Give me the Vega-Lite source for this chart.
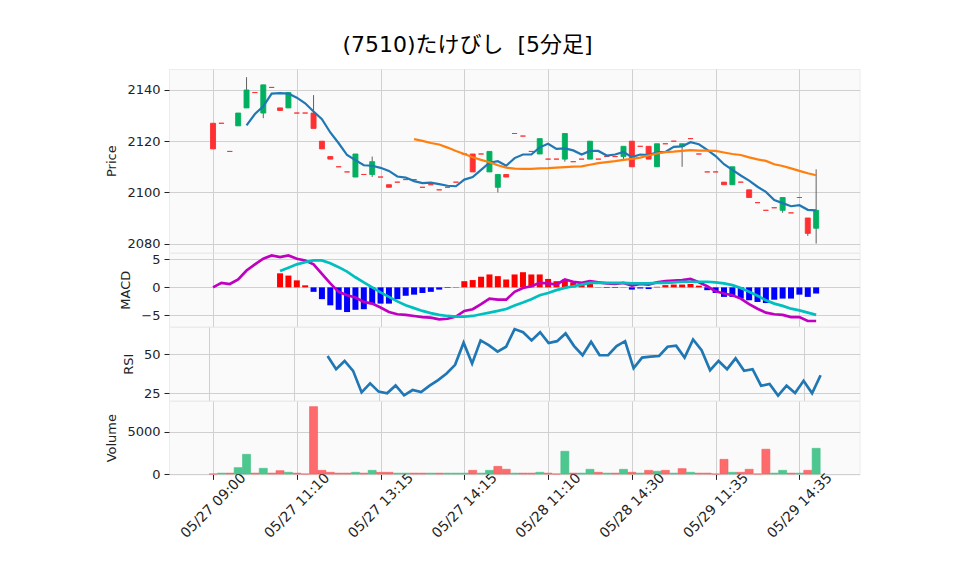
{
"$schema": "https://vega.github.io/schema/vega-lite/v6.json",
"background": "white",
"padding": {"left": 105, "top": 33, "right": 5, "bottom": 5},
"bounds": "flush",
"title": {"text": "(7510)たけびし\u00a0 [5分足]", "font": "DejaVu Sans, Noto Sans CJK JP", "fontSize": 22, "fontWeight": "normal", "color": "#000000", "anchor": "start", "dx": 237, "offset": 12},
"spacing": 0,
"datasets": {"d": [
{"i":0,"o":2127,"h":2127,"l":2117,"c":2117,"v":0,"vd":"d","md":0},
{"i":1,"o":2127,"h":2127,"l":2127,"c":2127,"v":100,"vd":"u","md":0.8},
{"i":2,"o":2116,"h":2116,"l":2116,"c":2116,"v":100,"vd":"d","md":0.6},
{"i":3,"o":2126,"h":2131,"l":2126,"c":2131,"v":750,"vd":"u","md":1.4},
{"i":4,"o":2133,"h":2145,"l":2133,"c":2140,"v":2320,"vd":"u","m5":2126.2,"md":3.0},
{"i":5,"o":2139,"h":2139,"l":2139,"c":2139,"v":100,"vd":"d","m5":2130.6,"md":4.1},
{"i":6,"o":2131,"h":2142,"l":2129,"c":2142,"v":670,"vd":"u","m5":2133.6,"md":5.1},
{"i":7,"o":2141,"h":2141,"l":2141,"c":2141,"v":100,"vd":"d","m5":2138.6,"md":5.7},
{"i":8,"o":2133,"h":2133,"l":2132,"c":2132,"v":390,"vd":"d","m5":2138.8,"md":5.4,"sg":2.9,"hs":2.5},
{"i":9,"o":2133,"h":2139,"l":2133,"c":2139,"v":200,"vd":"u","m5":2138.6,"md":5.7,"sg":3.5,"hs":2.1},
{"i":10,"o":2131,"h":2131,"l":2131,"c":2131,"v":100,"vd":"d","m5":2137.0,"md":5.1,"sg":4.1,"hs":1.25},
{"i":11,"o":2131,"h":2131,"l":2131,"c":2131,"v":0,"vd":"d","m5":2134.8,"md":4.8,"sg":4.5,"hs":0.36},
{"i":12,"o":2131,"h":2138,"l":2125,"c":2125,"v":7950,"vd":"d","m5":2131.6,"md":4.1,"sg":4.8,"hs":-0.8},
{"i":13,"o":2120,"h":2120,"l":2117,"c":2117,"v":430,"vd":"d","m5":2128.6,"md":2.4,"sg":4.8,"hs":-2.1},
{"i":14,"o":2114,"h":2114,"l":2113,"c":2113,"v":200,"vd":"d","m5":2123.4,"md":0.7,"sg":4.3,"hs":-3.2,"rsi":48.9},
{"i":15,"o":2110,"h":2110,"l":2110,"c":2110,"v":100,"vd":"d","m5":2119.2,"md":-0.8,"sg":3.6,"hs":-4.0,"rsi":40.4},
{"i":16,"o":2108,"h":2108,"l":2108,"c":2108,"v":100,"vd":"d","m5":2114.6,"md":-1.4,"sg":2.8,"hs":-4.4,"rsi":45.7},
{"i":17,"o":2106,"h":2115,"l":2106,"c":2115,"v":200,"vd":"u","m5":2112.6,"md":-1.8,"sg":1.8,"hs":-4.0,"rsi":39.3},
{"i":18,"o":2107,"h":2107,"l":2107,"c":2107,"v":100,"vd":"d","m5":2110.6,"md":-2.6,"sg":0.9,"hs":-3.9,"rsi":25.4},
{"i":19,"o":2107,"h":2114,"l":2106,"c":2112,"v":430,"vd":"u","m5":2110.4,"md":-2.9,"sg":0.0,"hs":-3.0,"rsi":31.2},
{"i":20,"o":2106,"h":2106,"l":2106,"c":2106,"v":200,"vd":"d","m5":2109.6,"md":-3.6,"sg":-0.9,"hs":-2.9,"rsi":25.9},
{"i":21,"o":2103,"h":2103,"l":2102,"c":2102,"v":200,"vd":"d","m5":2108.4,"md":-4.4,"sg":-1.7,"hs":-2.9,"rsi":24.8},
{"i":22,"o":2104,"h":2104,"l":2104,"c":2104,"v":100,"vd":"u","m5":2106.2,"md":-4.8,"sg":-2.5,"hs":-2.1,"rsi":29.9},
{"i":23,"o":2105,"h":2105,"l":2105,"c":2105,"v":100,"vd":"u","m5":2105.8,"md":-4.9,"sg":-3.2,"hs":-1.5,"rsi":23.5},
{"i":24,"o":2105,"h":2105,"l":2105,"c":2105,"v":100,"vd":"d","m5":2104.4,"m25":2120.8,"md":-5.1,"sg":-3.7,"hs":-1.3,"rsi":26.9},
{"i":25,"o":2102,"h":2102,"l":2102,"c":2102,"v":100,"vd":"d","m5":2103.6,"m25":2120.1,"md":-5.3,"sg":-4.2,"hs":-1.0,"rsi":25.6},
{"i":26,"o":2103,"h":2103,"l":2103,"c":2103,"v":100,"vd":"u","m5":2103.8,"m25":2119.3,"md":-5.4,"sg":-4.6,"hs":-0.8,"rsi":29.7},
{"i":27,"o":2101,"h":2101,"l":2101,"c":2101,"v":100,"vd":"d","m5":2103.2,"m25":2118.7,"md":-5.7,"sg":-4.9,"hs":-0.4,"rsi":33.3},
{"i":28,"o":2102,"h":2102,"l":2102,"c":2102,"v":100,"vd":"u","m5":2102.6,"m25":2117.5,"md":-5.6,"sg":-5.1,"hs":-0.1,"rsi":37.6},
{"i":29,"o":2104,"h":2104,"l":2104,"c":2104,"v":100,"vd":"u","m5":2102.4,"m25":2116.2,"md":-5.2,"sg":-5.2,"hs":-0.05,"rsi":43.2},
{"i":30,"o":2115,"h":2115,"l":2115,"c":2115,"v":100,"vd":"u","m5":2105.0,"m25":2115.0,"md":-4.2,"sg":-5.2,"hs":1.1,"rsi":57.5},
{"i":31,"o":2115,"h":2115,"l":2108,"c":2108,"v":430,"vd":"d","m5":2106.0,"m25":2113.7,"md":-3.9,"sg":-5.1,"hs":1.3,"rsi":44.0},
{"i":32,"o":2115,"h":2115,"l":2115,"c":2115,"v":100,"vd":"u","m5":2108.8,"m25":2112.7,"md":-3.0,"sg":-4.8,"hs":1.9,"rsi":59.0},
{"i":33,"o":2108,"h":2116,"l":2108,"c":2116,"v":430,"vd":"u","m5":2111.6,"m25":2111.8,"md":-2.0,"sg":-4.5,"hs":2.3,"rsi":55.8},
{"i":34,"o":2102,"h":2107,"l":2100,"c":2107,"v":900,"vd":"d","m5":2112.2,"m25":2110.6,"md":-2.2,"sg":-4.2,"hs":2.0,"rsi":51.7},
{"i":35,"o":2107,"h":2107,"l":2106,"c":2106,"v":550,"vd":"d","m5":2110.4,"m25":2109.7,"md":-2.2,"sg":-3.85,"hs":1.4,"rsi":54.9},
{"i":36,"o":2123,"h":2123,"l":2123,"c":2123,"v":100,"vd":"u","m5":2113.4,"m25":2109.3,"md":-0.8,"sg":-3.25,"hs":2.3,"rsi":66.3},
{"i":37,"o":2122,"h":2122,"l":2122,"c":2122,"v":100,"vd":"d","m5":2114.8,"m25":2109.2,"md":-0.1,"sg":-2.7,"hs":2.7,"rsi":64.3},
{"i":38,"o":2116,"h":2116,"l":2116,"c":2116,"v":100,"vd":"d","m5":2114.8,"m25":2109.2,"md":0.2,"sg":-2.1,"hs":2.3,"rsi":59.0},
{"i":39,"o":2115,"h":2121,"l":2115,"c":2121,"v":200,"vd":"u","m5":2117.6,"m25":2109.4,"md":0.8,"sg":-1.4,"hs":2.3,"rsi":64.3},
{"i":40,"o":2113,"h":2113,"l":2113,"c":2113,"v":100,"vd":"d","m5":2119.0,"m25":2109.5,"md":0.7,"sg":-1.0,"hs":1.5,"rsi":57.3},
{"i":41,"o":2113,"h":2113,"l":2113,"c":2113,"v":0,"vd":"d","m5":2117.0,"m25":2109.7,"md":0.5,"sg":-0.5,"hs":1.1,"rsi":58.5},
{"i":42,"o":2113,"h":2123,"l":2112,"c":2123,"v":2680,"vd":"u","m5":2117.2,"m25":2109.9,"md":1.4,"sg":-0.1,"hs":1.4,"rsi":63.5},
{"i":43,"o":2112,"h":2112,"l":2112,"c":2112,"v":100,"vd":"d","m5":2116.4,"m25":2110.1,"md":1.0,"sg":0.2,"hs":0.9,"rsi":55.3},
{"i":44,"o":2113,"h":2113,"l":2113,"c":2113,"v":100,"vd":"u","m5":2114.8,"m25":2110.2,"md":0.8,"sg":0.5,"hs":0.8,"rsi":49.4},
{"i":45,"o":2113,"h":2120,"l":2113,"c":2120,"v":550,"vd":"u","m5":2116.2,"m25":2110.8,"md":1.1,"sg":0.8,"hs":0.9,"rsi":58.1},
{"i":46,"o":2113,"h":2113,"l":2113,"c":2113,"v":200,"vd":"d","m5":2116.2,"m25":2111.4,"md":0.9,"sg":0.8,"hs":0.05,"rsi":49.4},
{"i":47,"o":2114,"h":2114,"l":2114,"c":2114,"v":100,"vd":"u","m5":2114.4,"m25":2111.8,"md":0.7,"sg":0.8,"hs":-0.1,"rsi":49.4},
{"i":48,"o":2114,"h":2114,"l":2114,"c":2114,"v":100,"vd":"d","m5":2114.8,"m25":2112.2,"md":0.6,"sg":0.8,"hs":-0.1,"rsi":55.3},
{"i":49,"o":2114,"h":2118,"l":2113,"c":2118,"v":550,"vd":"u","m5":2115.8,"m25":2112.7,"md":0.8,"sg":0.8,"hs":0.05,"rsi":58.5},
{"i":50,"o":2120,"h":2120,"l":2110,"c":2110,"v":200,"vd":"d","m5":2113.8,"m25":2113.1,"md":0.3,"sg":0.7,"hs":-0.4,"rsi":41.0},
{"i":51,"o":2118,"h":2118,"l":2118,"c":2118,"v":100,"vd":"u","m5":2114.8,"m25":2113.6,"md":0.6,"sg":0.7,"hs":-0.2,"rsi":47.9},
{"i":52,"o":2118,"h":2118,"l":2113,"c":2113,"v":430,"vd":"d","m5":2114.6,"m25":2114.4,"md":0.5,"sg":0.7,"hs":-0.3,"rsi":48.5},
{"i":53,"o":2110,"h":2119,"l":2110,"c":2119,"v":320,"vd":"u","m5":2115.6,"m25":2115.2,"md":0.9,"sg":0.8,"hs":0.1,"rsi":48.9},
{"i":54,"o":2119,"h":2119,"l":2119,"c":2119,"v":430,"vd":"d","m5":2115.8,"m25":2115.7,"md":1.1,"sg":0.8,"hs":0.4,"rsi":54.9},
{"i":55,"o":2120,"h":2120,"l":2120,"c":2120,"v":100,"vd":"u","m5":2117.8,"m25":2115.9,"md":1.2,"sg":0.9,"hs":0.5,"rsi":55.6},
{"i":56,"o":2118,"h":2119,"l":2110,"c":2119,"v":630,"vd":"d","m5":2118.0,"m25":2116.2,"md":1.3,"sg":1.0,"hs":0.5,"rsi":47.9},
{"i":57,"o":2121,"h":2121,"l":2121,"c":2121,"v":200,"vd":"u","m5":2119.6,"m25":2116.5,"md":1.5,"sg":1.0,"hs":0.6,"rsi":59.6},
{"i":58,"o":2115,"h":2115,"l":2115,"c":2115,"v":100,"vd":"d","m5":2118.8,"m25":2116.3,"md":0.9,"sg":1.0,"hs":0.3,"rsi":52.6},
{"i":59,"o":2108,"h":2108,"l":2108,"c":2108,"v":100,"vd":"d","m5":2116.6,"m25":2116.3,"md":0.2,"sg":1.0,"hs":-0.5,"rsi":39.7},
{"i":60,"o":2108,"h":2108,"l":2108,"c":2108,"v":0,"vd":"d","m5":2114.2,"m25":2116.2,"md":-0.7,"sg":0.9,"hs":-1.0,"rsi":45.7},
{"i":61,"o":2104,"h":2104,"l":2103,"c":2103,"v":1730,"vd":"d","m5":2111.0,"m25":2115.6,"md":-1.1,"sg":0.7,"hs":-1.7,"rsi":40.4},
{"i":62,"o":2103,"h":2110,"l":2103,"c":2110,"v":200,"vd":"u","m5":2108.8,"m25":2115.0,"md":-1.4,"sg":0.4,"hs":-1.7,"rsi":47.4},
{"i":63,"o":2104,"h":2104,"l":2104,"c":2104,"v":200,"vd":"d","m5":2106.6,"m25":2114.6,"md":-2.0,"sg":-0.1,"hs":-2.0,"rsi":39.3},
{"i":64,"o":2101,"h":2101,"l":2098,"c":2098,"v":550,"vd":"d","m5":2104.6,"m25":2113.7,"md":-3.0,"sg":-0.8,"hs":-2.3,"rsi":40.4},
{"i":65,"o":2096,"h":2096,"l":2096,"c":2096,"v":0,"vd":"d","m5":2102.2,"m25":2112.9,"md":-3.8,"sg":-1.5,"hs":-2.6,"rsi":29.7},
{"i":66,"o":2093,"h":2093,"l":2093,"c":2093,"v":2920,"vd":"d","m5":2100.2,"m25":2112.3,"md":-4.5,"sg":-2.3,"hs":-2.8,"rsi":30.8},
{"i":67,"o":2094,"h":2094,"l":2094,"c":2094,"v":100,"vd":"u","m5":2097.0,"m25":2111.0,"md":-4.8,"sg":-2.9,"hs":-2.2,"rsi":23.3},
{"i":68,"o":2093,"h":2098,"l":2092,"c":2098,"v":430,"vd":"u","m5":2095.8,"m25":2110.3,"md":-4.9,"sg":-3.3,"hs":-2.0,"rsi":29.7},
{"i":69,"o":2092,"h":2092,"l":2092,"c":2092,"v":100,"vd":"d","m5":2094.6,"m25":2109.4,"md":-5.3,"sg":-3.8,"hs":-2.0,"rsi":25.0},
{"i":70,"o":2098,"h":2098,"l":2098,"c":2098,"v":100,"vd":"u","m5":2095.0,"m25":2108.4,"md":-5.3,"sg":-4.1,"hs":-1.3,"rsi":32.9},
{"i":71,"o":2090,"h":2090,"l":2083,"c":2084,"v":430,"vd":"d","m5":2093.2,"m25":2107.5,"md":-6.0,"sg":-4.5,"hs":-1.7,"rsi":24.8},
{"i":72,"o":2086,"h":2109,"l":2080,"c":2093,"v":3030,"vd":"u","m5":2093.0,"m25":2106.7,"md":-6.0,"sg":-4.9,"hs":-1.1,"rsi":36.5}
]},
"vconcat": [
{
"width": 690.6, "height": 183.4,
"data": {"name": "d"},
"encoding": {"x": {"field": "i", "type": "quantitative", "scale": {"domain": [-4.66, 76.59], "nice": false, "zero": false}, "axis": {"values": [0,10,20,30,40,50,60,70], "tickCount": 20, "labels": false, "ticks": false, "title": null, "grid": true}}},
"layer": [
{"mark": {"type": "rule", "color": "#606060", "strokeWidth": 1}, "encoding": {"y": {"field": "l", "type": "quantitative", "scale": {"domain": [2076.56, 2148.2], "nice": false, "zero": false}, "axis": {"values": [2080,2100,2120,2140], "tickCount": 10, "format": "d", "title": "Price"}}, "y2": {"field": "h"}}},
{"mark": {"type": "bar", "size": 5, "strokeWidth": 0.9}, "encoding": {"y": {"field": "o", "type": "quantitative"}, "y2": {"field": "c"}, "color": {"condition": {"test": "datum.c > datum.o", "value": "#00b060"}, "value": "#fe3032"}, "stroke": {"condition": {"test": "datum.c > datum.o", "value": "#00b060"}, "value": "#fe3032"}}},
{"transform": [{"filter": {"field": "m5", "valid": true}}], "mark": {"type": "line", "color": "#1f77b4", "strokeWidth": 2.2}, "encoding": {"y": {"field": "m5", "type": "quantitative"}}},
{"transform": [{"filter": {"field": "m25", "valid": true}}], "mark": {"type": "line", "color": "#ff7f0e", "strokeWidth": 2.2}, "encoding": {"y": {"field": "m25", "type": "quantitative"}}}
]
},
{
"width": 690.6, "height": 73.4,
"data": {"name": "d"},
"encoding": {"x": {"field": "i", "type": "quantitative", "scale": {"domain": [-4.66, 76.59], "nice": false, "zero": false}, "axis": {"values": [0,10,20,30,40,50,60,70], "tickCount": 20, "labels": false, "ticks": false, "title": null, "grid": true}}},
"layer": [
{"transform": [{"filter": {"field": "hs", "valid": true}}], "mark": {"type": "bar", "size": 6}, "encoding": {"y": {"field": "hs", "type": "quantitative", "scale": {"domain": [-6.96, 6.125], "nice": false, "zero": false}, "axis": {"values": [-5,0,5], "tickCount": 10, "format": "d", "title": "MACD"}}, "y2": {"datum": 0}, "color": {"condition": {"test": "datum.hs > 0", "value": "#ff0000"}, "value": "#0000ff"}}},
{"mark": {"type": "line", "color": "#bf00bf", "strokeWidth": 2.7}, "encoding": {"y": {"field": "md", "type": "quantitative"}}},
{"transform": [{"filter": {"field": "sg", "valid": true}}], "mark": {"type": "line", "color": "#00bfbf", "strokeWidth": 2.7}, "encoding": {"y": {"field": "sg", "type": "quantitative"}}}
]
},
{
"width": 690.6, "height": 73.4,
"data": {"name": "d"},
"transform": [{"filter": {"field": "rsi", "valid": true}}],
"mark": {"type": "line", "color": "#1f77b4", "strokeWidth": 2.7},
"encoding": {
"x": {"field": "i", "type": "quantitative", "scale": {"domain": [-4.66, 76.59], "nice": false, "zero": false}, "axis": {"values": [0,10,20,30,40,50,60,70], "tickCount": 20, "labels": false, "ticks": false, "title": null, "grid": true}},
"y": {"field": "rsi", "type": "quantitative", "scale": {"domain": [20.22, 67.64], "nice": false, "zero": false}, "axis": {"values": [25,50], "tickCount": 10, "format": "d", "title": "RSI"}}
}
},
{
"width": 690.6, "height": 73.4,
"data": {"name": "d"},
"mark": {"type": "bar", "size": 8, "strokeWidth": 0.6},
"encoding": {
"x": {"field": "i", "type": "quantitative", "scale": {"domain": [-4.66, 76.59], "nice": false, "zero": false}, "axis": {"values": [0,10,20,30,40,50,60,70], "tickCount": 20, "title": null, "grid": true, "labelExpr": "['05/27 09:00','05/27 11:10','05/27 13:15','05/27 14:15','05/28 11:10','05/28 14:30','05/29 11:35','05/29 14:35'][round(datum.value/10)]", "labelAngle": -45, "labelAlign": "center", "labelBaseline": "middle", "labelPadding": 26, "labelFontSize": 14, "tickSize": 5, "labelOverlap": false, "labelFlush": false, "labelBound": false}},
"y": {"field": "v", "type": "quantitative", "scale": {"domain": [-47, 8617], "nice": false, "zero": false}, "axis": {"values": [0,5000], "tickCount": 10, "format": "d", "title": "Volume"}},
"y2": {"datum": 0},
"color": {"condition": {"test": "datum.vd == 'u'", "value": "#4dc790"}, "value": "#fd6b6c"},
"stroke": {"condition": {"test": "datum.vd == 'u'", "value": "#3fbf85"}, "value": "#f45a5b"}
}
}
],
"config": {
"font": "DejaVu Sans",
"view": {"fill": "#fafafa", "stroke": "#ececec"},
"axis": {"gridColor": "#d0d0d0", "gridWidth": 1, "labelFont": "DejaVu Sans", "labelFontSize": 13, "labelColor": "#222222", "tickColor": "#222222", "titleFont": "DejaVu Sans", "titleFontSize": 13, "titleFontWeight": "normal", "titleColor": "#222222", "domain": false},
"axisY": {"tickSize": 5, "labelPadding": 4, "titlePadding": 8, "labelOverlap": false}
}
}
